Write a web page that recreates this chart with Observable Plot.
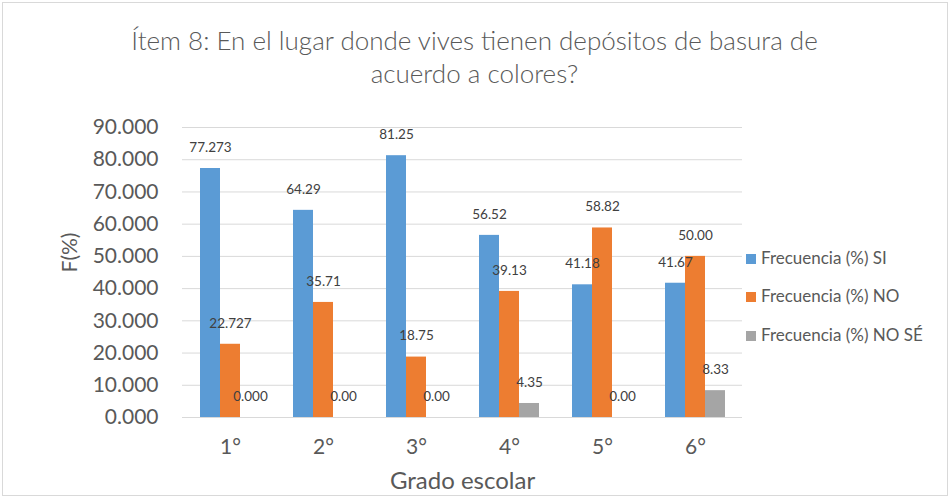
<!DOCTYPE html>
<html>
<head>
<meta charset="utf-8">
<script src="https://cdn.jsdelivr.net/npm/d3@7"></script>
<script src="https://cdn.jsdelivr.net/npm/@observablehq/plot@0.6"></script>
<style>
  html, body { margin: 0; padding: 0; background: #fff; }
  #wrap { position: relative; width: 949px; height: 497px; overflow: hidden; font-family: Lato, "Open Sans", sans-serif; }
  #border { position: absolute; left: 2px; top: 2px; width: 946px; height: 494px; box-sizing: border-box; border: 1px solid #d9d9d9; }
  #title { position: absolute; left: 0; width: 949px; top: 24px; text-align: center; font-size: 26px; font-weight: 300; line-height: 33px; color: #595959; }
  .layer { position: absolute; left: 0; top: 0; }
  .layer svg { display: block; }
  .leg { position: absolute; left: 746px; height: 20px; line-height: 20px; font-size: 17px; color: #595959; white-space: nowrap; }
  .leg span.sw { display: inline-block; width: 10px; height: 10px; margin-right: 5px; }
  svg [aria-label="y-axis tick label"] text { font-size: 21px; fill: #595959; }
  svg [aria-label="x-axis tick label"] text { font-size: 21px; fill: #595959; }
</style>
</head>
<body>
<div id="wrap">
  <div id="border"></div>
  <div id="base" class="layer"></div>
  <div id="bars" class="layer"></div>
  <div id="title"></div>
  <div id="legend"></div>
</div>
<script>
const titleLines = ["Ítem 8: En el lugar donde vives tienen depósitos de basura de", "acuerdo a colores?"];
const grades = ["1°", "2°", "3°", "4°", "5°", "6°"];
const series = ["Frecuencia (%) SI", "Frecuencia (%) NO", "Frecuencia (%) NO SÉ"];
const siValues = [77.273, 64.29, 81.25, 56.52, 41.18, 41.67];
const noValues = [22.727, 35.71, 18.75, 39.13, 58.82, 50.00];
const noseValues = [0, 0, 0, 4.35, 0, 8.33];
const siLabels = ["77.273", "64.29", "81.25", "56.52", "41.18", "41.67"];
const noLabels = ["22.727", "35.71", "18.75", "39.13", "58.82", "50.00"];
const noseLabels = ["0.000", "0.00", "0.00", "4.35", "0.00", "8.33"];
const yTicks = [0, 10, 20, 30, 40, 50, 60, 70, 80, 90];
const colors = ["#5b9bd5", "#ed7d31", "#a5a5a5"];
const yLabel = "F(%)";
const xLabel = "Grado escolar";

const valueSets = [siValues, noValues, noseValues];
const labelSets = [siLabels, noLabels, noseLabels];
const rows = [];
grades.forEach((g, i) => series.forEach((s, j) => rows.push({grade: g, series: s, value: valueSets[j][i], label: labelSets[j][i]})));

const frame = {
  width: 949, height: 497,
  marginLeft: 182, marginRight: 207, marginTop: 127, marginBottom: 80,
  style: {fontFamily: "Lato, 'Open Sans', sans-serif", background: "transparent", overflow: "visible"}
};
const groupBand = {domain: grades, paddingInner: 1 / 3, paddingOuter: 1 / 6, align: 0.5};

// Base layer: grid, axes, axis titles
const base = Plot.plot({
  ...frame,
  x: {...groupBand, label: null, axis: null},
  y: {domain: [0, 90], axis: null},
  marks: [
    Plot.ruleY(yTicks, {stroke: "#d9d9d9", strokeWidth: 1}),
    Plot.axisY(yTicks, {tickSize: 0, tickPadding: 24, tickFormat: d3.format(".3f"), label: null}),
    Plot.axisX({tickSize: 0, tickPadding: 22, label: null}),
    Plot.text([yLabel], {frameAnchor: "left", rotate: -90, dx: -112, fontSize: 21, fill: "#595959"}),
    Plot.text([xLabel], {frameAnchor: "bottom", dy: 71, fontSize: 24, fill: "#595959"})
  ]
});
document.getElementById("base").appendChild(base);

// Bars layer: grouped bars via fx facets
const bars = Plot.plot({
  ...frame,
  fx: {...groupBand, label: null, axis: null},
  x: {domain: series, padding: 0, axis: null},
  y: {domain: [0, 90], axis: null},
  color: {domain: series, range: colors},
  marks: [
    Plot.barY(rows, {fx: "grade", x: "series", y: "value", fill: "series"}),
    Plot.text(rows, {fx: "grade", x: "series", y: "value", text: "label", dy: -21, fontSize: 13.5, fill: "#404040"})
  ]
});
document.getElementById("bars").appendChild(bars);

const t = document.getElementById("title");
titleLines.forEach(l => { const d = document.createElement("div"); d.textContent = l; t.appendChild(d); });

const legendCenters = [258, 296, 335];
const leg = document.getElementById("legend");
series.forEach((s, j) => {
  const d = document.createElement("div");
  d.className = "leg";
  d.style.top = (legendCenters[j] - 10) + "px";
  const sw = document.createElement("span");
  sw.className = "sw";
  sw.style.background = colors[j];
  d.appendChild(sw);
  d.appendChild(document.createTextNode(s));
  leg.appendChild(d);
});
</script>
</body>
</html>
